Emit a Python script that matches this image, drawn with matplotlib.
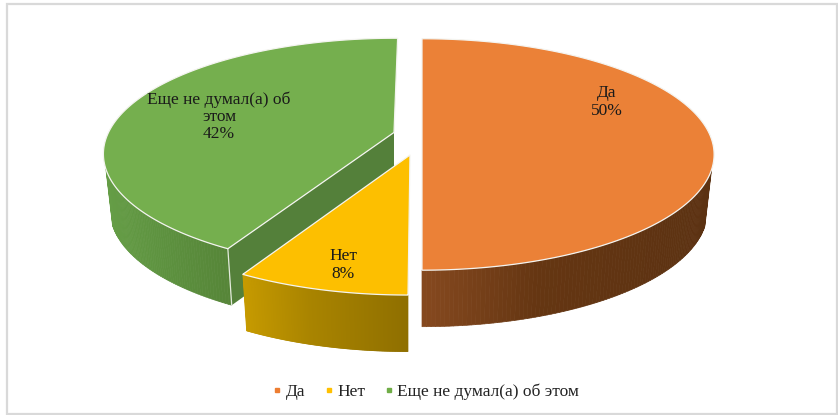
import numpy as np
import matplotlib
matplotlib.use("Agg")
import matplotlib.pyplot as plt
from matplotlib.patches import Polygon, Rectangle
from matplotlib.lines import Line2D
from matplotlib.collections import PolyCollection
from matplotlib.colors import to_rgb

categories = ["Да", "Нет", "Еще не думал(а) об этом"]
values = [50, 8, 42]
percent_labels = ["50%", "8%", "42%"]
label_text = ["Да", "Нет", "Еще не думал(а) об\nэтом"]

top_colors = ["#EB8137", "#FDBF00", "#75AF4E"]
legend_colors = ["#ED7D31", "#FFC000", "#70AD47"]
side_left = ["#86491F", "#C69A00", "#659D46"]
side_right = ["#5C3212", "#8F6F00", "#568538"]
side_mid = ["#653612", "#A98400", "#5E9340"]
cut_color = "#54803A"

# layout of each exploded slice in picture pixels
centres = [(422, 154.5), (408, 177), (395.5, 154)]
apex_dx = [0, 2, -1.5]
scale_y = [0.98, 1.0, 0.98]
rotate = [0, 0, 0.5]
label_pos = [(607, 102), (343, 265), (219, 117)]

DEPTH = 56.5
RIM_SHRINK = 0.977
K, A, B, C = 0.186, 287.0, 114.0, -22.0

plt.rcParams["font.family"] = ["Liberation Serif", "DejaVu Serif"]
fig = plt.figure(figsize=(8.38, 4.15), dpi=100)
ax = fig.add_axes([0, 0, 1, 1])
ax.set_xlim(0, 838)
ax.set_ylim(415, 0)
ax.axis("off")


def project(theta_deg, i):
    t = np.radians(np.asarray(theta_deg, dtype=float) + rotate[i])
    u, v = np.sin(t), np.cos(t)
    w = 1 - K * v
    return (centres[i][0] - A * u / w,
            centres[i][1] + scale_y[i] * (B * v / w + C))


def lower(x, y, i):
    return centres[i][0] + (x - centres[i][0]) * RIM_SHRINK, y + DEPTH


ax.add_patch(Rectangle((6.5, 4.5), 830, 409, fill=False, ec="#D9D9D9", lw=1.6, zorder=0))

# angles run from the front centre; each slice's sweep comes from its share of the total
sweep = np.array(values, dtype=float) / sum(values) * 360
spans = [(-sweep[0], 0), (0, sweep[1]), (sweep[1], sweep[1] + sweep[2])]


def lerp(c1, c2, f):
    a, b = np.array(to_rgb(c1)), np.array(to_rgb(c2))
    return tuple(a + (b - a) * f)


def wall_colour(i, f):
    # the shading reaches its middle tone part way along and then stays almost flat
    if f < 0.4:
        return lerp(side_left[i], side_mid[i], f / 0.4)
    return lerp(side_mid[i], side_right[i], (f - 0.4) / 0.6)


for i in [2, 1, 0]:
    th = np.linspace(spans[i][0], spans[i][1], 241)
    x, y = project(th, i)
    apex = (centres[i][0] + apex_dx[i], centres[i][1] + scale_y[i] * C)

    # outer wall: only the part facing the viewer
    vis = y >= centres[i][1] + 14
    xv, yv = x[vis], y[vis]
    xl, yl = lower(xv, yv, i)
    lo, hi = xv.min(), xv.max()
    quads, cols = [], []
    for j in range(len(xv) - 1):
        quads.append([(xv[j], yv[j]), (xv[j + 1], yv[j + 1]),
                      (xl[j + 1], yl[j + 1]), (xl[j], yl[j])])
        f = ((xv[j] + xv[j + 1]) / 2 - lo) / (hi - lo)
        cols.append(wall_colour(i, f))
    ax.add_collection(PolyCollection(quads, facecolors=cols, edgecolors=cols, lw=0.5, zorder=2 + (2 - i)))

    # cut wall of the green slice, facing the gap
    if i == 2:
        xs, ys = project(spans[i][0], i)
        xb, yb = lower(xs, ys, i)
        ax.add_patch(Polygon([apex, (xs, ys), (xb, yb), (apex[0], apex[1] + DEPTH)],
                             fc=cut_color, ec="none", zorder=3))
        ax.plot([xs, xb], [ys, yb], color="#E4EBDD", lw=0.9, zorder=3.5)

    # top face
    poly = [apex] + list(zip(x, y))
    ax.add_patch(Polygon(poly, fc=top_colors[i], ec="#F4F4F0", lw=0.9, zorder=5, joinstyle="round"))

    ax.text(label_pos[i][0], label_pos[i][1], f"{label_text[i]}\n{percent_labels[i]}",
            ha="center", va="center", fontsize=12.5, linespacing=1.1, color="#1A1A1A", zorder=6)

handles = [Line2D([], [], ls="none", marker="s", ms=3.2, color=c) for c in legend_colors]
ax.legend(handles, categories, loc="center", bbox_to_anchor=(425.5 / 838, 1 - 392 / 415), ncol=3,
          frameon=False, fontsize=12.5, handlelength=0.6, handletextpad=0.18, columnspacing=1.06,
          labelcolor="#222222", borderpad=0)

fig.savefig("out.png", dpi=100, facecolor="white")
